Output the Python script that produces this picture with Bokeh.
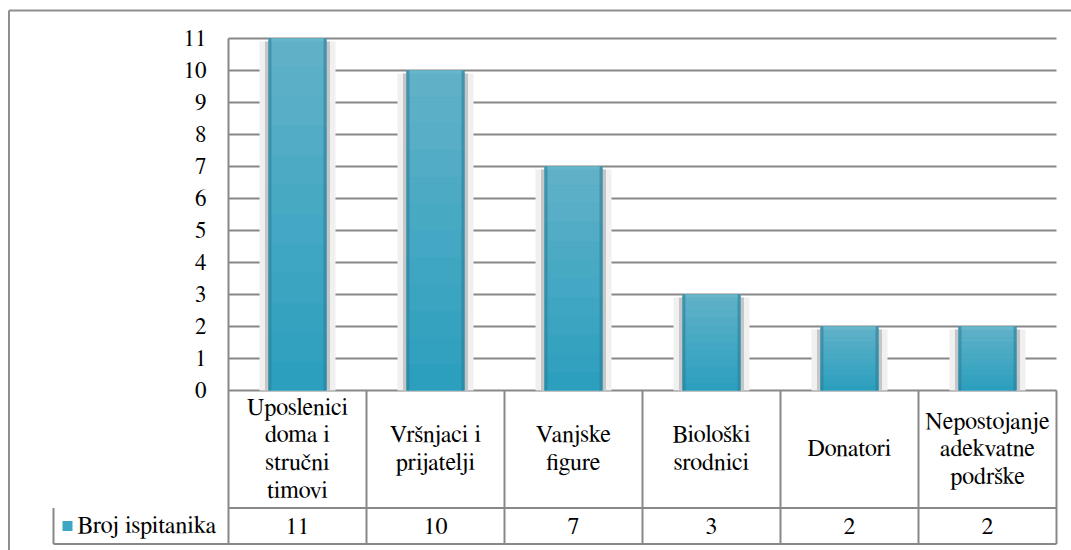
from bokeh.plotting import figure
from bokeh.models import Range1d
from bokeh.core.properties import value
from bokeh.embed import file_html
from bokeh.resources import INLINE

# ---- data ----
categories = ["Uposlenici\ndoma i\nstručni\ntimovi", "Vršnjaci i\nprijatelji", "Vanjske\nfigure",
              "Biološki\nsrodnici", "Donatori", "Nepostojanje\nadekvatne\npodrške"]
counts = [11, 10, 7, 3, 2, 2]
series_name = "Broj ispitanika"
y_ticks = list(range(0, 12))

FONT = "FreeSerif"
GRID = "#888888"
PX = 32.0          # px per y unit
CW = 138.0         # px per category
X0, Y0 = 228.0, 390.0   # canvas px of category axis origin / value zero
W, H = 1071, 550


def dx(px):
    return (px - X0) / CW


def dy(py):
    return (Y0 - py) / PX


n = len(categories)
xs = [i + 0.5 for i in range(n)]

p = figure(width=W, height=H, output_backend="svg", toolbar_location=None,
           x_range=Range1d(dx(0), dx(W)), y_range=Range1d(dy(H), dy(0)),
           x_axis_location=None, y_axis_location=None, min_border=0)
p.outline_line_color = None
p.grid.grid_line_color = None
p.background_fill_color = "white"
p.border_fill_color = "white"

# outer chart-area border (left and top visible)
p.segment(x0=[dx(8.5), dx(8.5)], x1=[dx(8.5), dx(1100)], y0=[dy(600), dy(10)], y1=[dy(10), dy(10)],
          line_color="#8e8e8e", line_width=2)

# gridlines
p.segment(x0=[0] * len(y_ticks), x1=[n] * len(y_ticks), y0=y_ticks, y1=y_ticks,
          line_color=GRID, line_width=2)
# y tick labels
p.text(x=[dx(206)] * len(y_ticks), y=y_ticks, text=[str(t) for t in y_ticks], text_font=value(FONT),
       text_font_size="23px", text_align="right", text_baseline="middle", text_color="black")

# bars
bw = 58 / CW
tops_sh = [v - 3 / PX for v in counts]
p.vbar(x=xs, top=tops_sh, bottom=0, width=bw + 18 / CW, fill_color="#f0f0f0", line_color=None)
p.vbar(x=xs, top=tops_sh, bottom=0, width=bw + 7 / CW, fill_color="#c6c6c6", line_color=None)
p.vbar(x=xs, top=counts, bottom=0, width=bw, fill_color="#3ca6c4", line_color=None)

# vertical gradient bands
N = 12
c_top = (0x60, 0xb1, 0xc8)
c_bot = (0x2c, 0x9f, 0xbe)
bx, bb, bt, bc = [], [], [], []
for x, v in zip(xs, counts):
    for k in range(N):
        f = k / (N - 1)
        col = tuple(int(round(c_bot[j] + (c_top[j] - c_bot[j]) * f)) for j in range(3))
        bx.append(x)
        bb.append(v * k / N)
        bt.append(v * (k + 1) / N)
        bc.append("#%02x%02x%02x" % col)
p.vbar(x=bx, bottom=bb, top=bt, width=bw, fill_color=bc, line_color=None)

# darker side edges
edge_w = 3 / CW
p.vbar(x=[x - bw / 2 + edge_w / 2 for x in xs], top=counts, bottom=0, width=edge_w,
       fill_color="#2f7f98", fill_alpha=0.6, line_color=None)
p.vbar(x=[x + bw / 2 - edge_w / 2 for x in xs], top=counts, bottom=0, width=edge_w,
       fill_color="#2f7f98", fill_alpha=0.6, line_color=None)
# top cap highlight
p.vbar(x=xs, top=counts, bottom=[v - 3 / PX for v in counts], width=bw - 2 * edge_w,
       fill_color="#6cb8cd", fill_alpha=0.7, line_color=None)

# ---- data table ----
y_mid = dy(507.5)
y_bot = dy(543.5)
x_leg = dx(53)
p.segment(x0=[0, x_leg], x1=[n, n], y0=[y_mid, y_bot], y1=[y_mid, y_bot], line_color=GRID, line_width=2)
p.segment(x0=[0, x_leg], x1=[0, x_leg], y0=[11, y_mid], y1=[y_bot, y_bot], line_color=GRID, line_width=2)
p.segment(x0=list(range(1, n + 1)), x1=list(range(1, n + 1)), y0=[0] * n, y1=[y_bot] * n,
          line_color=GRID, line_width=2)

p.text(x=xs, y=[y_mid / 2] * n, text=categories, text_font=value(FONT), text_font_size="24px",
       text_align="center", text_baseline="middle", text_color="black", text_line_height=1.15)
p.text(x=xs, y=[(y_mid + y_bot) / 2] * n, text=[str(c) for c in counts], text_font=value(FONT),
       text_font_size="24px", text_align="center", text_baseline="middle", text_color="black")

# legend key inside the table
p.rect(x=[dx(67)], y=[(y_mid + y_bot) / 2], width=[10 / CW], height=[10 / PX],
       fill_color="#3ca6c4", line_color=None)
p.text(x=[dx(77)], y=[(y_mid + y_bot) / 2], text=[series_name], text_font=value(FONT),
       text_font_size="24px", text_align="left", text_baseline="middle", text_color="black")

open("out.html", "w").write(file_html(p, INLINE))
